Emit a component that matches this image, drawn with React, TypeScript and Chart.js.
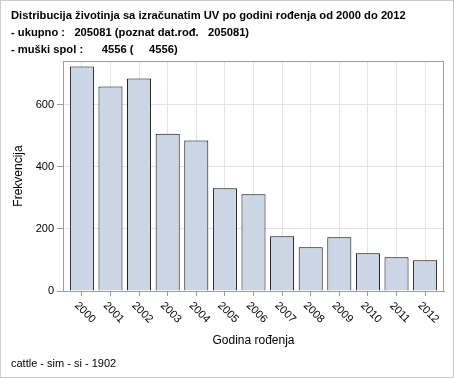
import React, { useEffect, useRef } from "react";
import { Chart, registerables } from "chart.js";

Chart.register(...registerables);

const years = ["2000", "2001", "2002", "2003", "2004", "2005", "2006", "2007", "2008", "2009", "2010", "2011", "2012"];
const counts = [723, 659, 685, 507, 485, 331, 312, 176, 141, 173, 122, 109, 99];
const yTicks = [0, 200, 400, 600];
const titleLines = [
  "Distribucija životinja sa izračunatim UV po godini rođenja od 2000 do 2012",
  "- ukupno :   205081 (poznat dat.rođ.   205081)",
  "- muški spol :      4556 (     4556)",
];
const footnote = "cattle - sim - si - 1902";
const xTitle = "Godina rođenja";
const yTitle = "Frekvencija";

const FONT = "'Liberation Sans', Arial, sans-serif";
const FRAME = "#9c9c9c";
const GRID = "#e3e3e3";

const decorPlugin = {
  id: "decor",
  afterDraw(chart: any) {
    const { ctx, chartArea } = chart;
    ctx.save();
    // plot frame (top/right)
    ctx.strokeStyle = FRAME;
    ctx.lineWidth = 1;
    ctx.strokeRect(Math.round(chartArea.left) + 0.5, Math.round(chartArea.top) + 0.5,
      Math.round(chartArea.right - chartArea.left) - 1, Math.round(chartArea.bottom - chartArea.top));
    // outer border
    ctx.strokeStyle = "#cccccc";
    ctx.strokeRect(0.5, 0.5, chart.width - 1, chart.height - 1);
    // titles
    ctx.fillStyle = "#000";
    ctx.textAlign = "left";
    ctx.textBaseline = "alphabetic";
    ctx.font = "bold 11.2px " + FONT;
    const baselines = [19, 36, 53];
    titleLines.forEach((t, i) => ctx.fillText(t, 11, baselines[i]));
    ctx.font = "11px " + FONT;
    ctx.fillText(footnote, 11, 367);
    // rotated x labels
    const xs = chart.scales.x;
    ctx.font = "11px " + FONT;
    ctx.textAlign = "center";
    ctx.textBaseline = "middle";
    years.forEach((lab, i) => {
      const px = xs.getPixelForValue(i);
      ctx.save();
      ctx.translate(px + 3.2, chartArea.bottom + 21.5);
      ctx.rotate(Math.PI / 4);
      ctx.fillText(lab, 0, 0);
      ctx.restore();
    });
    ctx.restore();
  },
};

export default function App() {
  const ref = useRef<HTMLCanvasElement>(null);
  useEffect(() => {
    document.body.style.margin = "0";
    const chart = new Chart(ref.current as HTMLCanvasElement, {
      type: "bar",
      data: {
        datasets: [
          {
            data: counts.map((v, i) => ({ x: i, y: v })),
            backgroundColor: "#cad5e5",
            borderColor: "#000000",
            borderWidth: 1,
            barPercentage: 0.84,
            categoryPercentage: 1,
          },
        ],
      },
      options: {
        animation: false,
        responsive: false,
        devicePixelRatio: 1,
        layout: { padding: { left: 0, right: 10, top: 61, bottom: 0 } },
        plugins: { legend: { display: false }, tooltip: { enabled: false }, title: { display: false } },
        scales: {
          x: {
            type: "linear",
            offset: false,
            min: -0.66,
            max: 12.66,
            afterBuildTicks: (s: any) => {
              s.ticks = years.map((_, i) => ({ value: i }));
            },
            afterFit: (s: any) => {
              s.height = 87;
            },
            grid: { offset: false, color: GRID, tickColor: FRAME, tickLength: 5, drawTicks: true },
            border: { display: true, color: FRAME },
            ticks: { display: false },
            title: {
              display: true,
              text: xTitle,
              color: "#000",
              font: { family: FONT, size: 12 },
              padding: { top: 0, bottom: 30 },
            },
          },
          y: {
            type: "linear",
            min: 0,
            max: 741,
            afterBuildTicks: (s: any) => {
              s.ticks = yTicks.map((v) => ({ value: v }));
            },
            afterFit: (s: any) => {
              s.width = 63;
            },
            grid: { color: GRID, tickColor: FRAME, tickLength: 6, drawTicks: true },
            border: { display: true, color: FRAME },
            ticks: { color: "#000", font: { family: FONT, size: 11 }, padding: 3 },
            title: {
              display: true,
              text: yTitle,
              color: "#000",
              font: { family: FONT, size: 12 },
              padding: { top: 11, bottom: 0 },
            },
          },
        },
      },
      plugins: [decorPlugin],
    } as any);
    return () => chart.destroy();
  }, []);
  return (
    <div style={{ position: "fixed", left: 0, top: 0, width: 454, height: 378, background: "#fff" }}>
      <canvas ref={ref} width={454} height={378} style={{ display: "block" }} />
    </div>
  );
}
